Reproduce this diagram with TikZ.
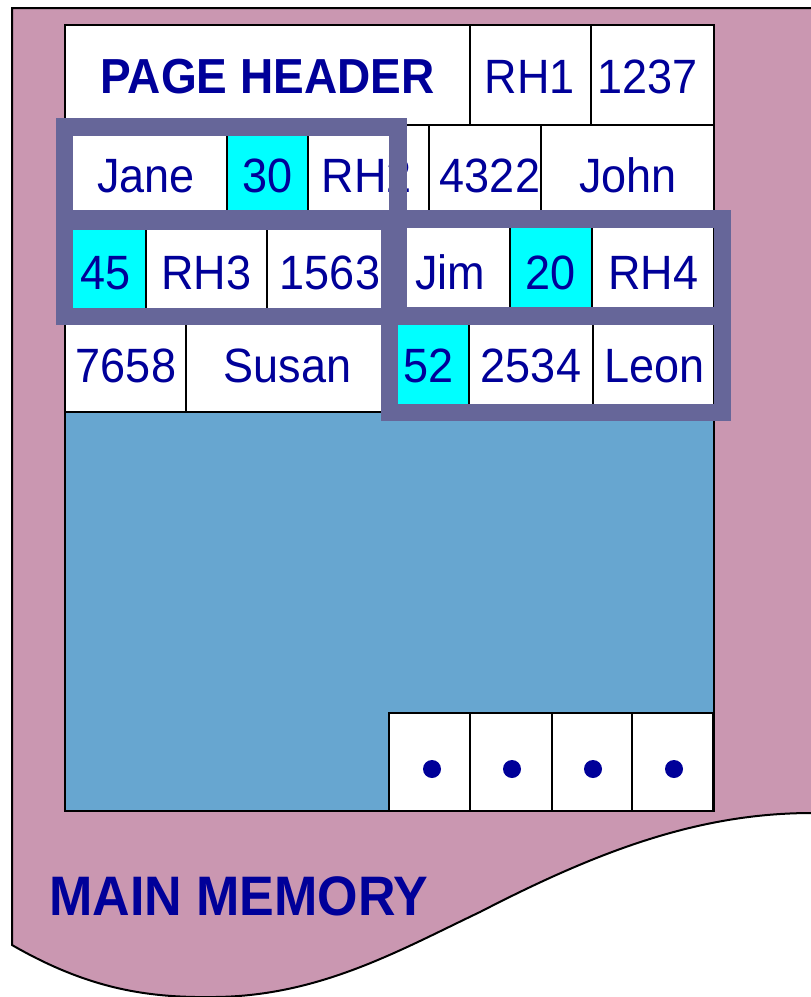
\documentclass[tikz,border=0pt]{standalone}
\usepackage{fontspec}
\usepackage{graphicx}
\setmainfont{Liberation Sans}
\definecolor{pinkbg}{RGB}{202,151,177}
\definecolor{pageblue}{RGB}{103,166,208}
\definecolor{framecol}{RGB}{102,102,153}
\definecolor{txtblue}{RGB}{0,0,153}
\definecolor{cyanfill}{RGB}{0,255,255}
\newcommand{\mkcell}[6]{\node[cellbox, fill=#6, minimum width={#4-#2}, minimum height={#5-#3}] (#1) at ({(#2+#4)/2},{(#3+#5)/2}) {};}
\newcommand{\tall}[1]{\scalebox{1}[1.07]{#1}}
\begin{document}
\begin{tikzpicture}[x=1pt,y=-1pt,
  cellbox/.style={draw=black, line width=1.6pt, inner sep=0pt, outer sep=0pt},
  celltext/.style={anchor=base, text=txtblue, font=\fontsize{45}{54}\selectfont, inner sep=0pt},
  framebox/.style={draw=framecol, line width=17.5pt},
  dotmark/.style={fill=txtblue}]
\useasboundingbox (0,0) rectangle (811,997);
% background memory shape
\fill[pinkbg] (812,8) -- (12,8) -- (12,945) .. controls (90,990) and (150,998) .. (215,997) .. controls (320,996) and (400,950) .. (480,912) .. controls (600,850) and (700,813) .. (812,813) -- cycle;
\draw[black, line width=2pt] (812,8) -- (12,8) -- (12,945) .. controls (90,990) and (150,998) .. (215,997) .. controls (320,996) and (400,950) .. (480,912) .. controls (600,850) and (700,813) .. (812,813);
% page
\node[draw=black, line width=2.6pt, fill=pageblue, inner sep=0pt, minimum width=649pt, minimum height=786pt] (page) at ({(65+714)/2},{(25+811)/2}) {};
% row 1
\mkcell{hdr}{65}{25}{470}{125}{white}
\mkcell{rhone}{470}{25}{591}{125}{white}
\mkcell{cone}{591}{25}{714}{125}{white}
% row 2
\mkcell{jane}{65}{125}{227}{219}{white}
\mkcell{thirty}{227}{125}{308}{219}{cyanfill}
\mkcell{rhtwo}{308}{125}{429}{219}{white}
\mkcell{ctwo}{429}{125}{541}{219}{white}
\mkcell{john}{541}{125}{714}{219}{white}
% row 3
\mkcell{fortyfive}{65}{219}{146}{316}{cyanfill}
\mkcell{rhthree}{146}{219}{267}{316}{white}
\mkcell{cthree}{267}{219}{390}{316}{white}
\mkcell{jim}{390}{219}{510}{316}{white}
\mkcell{twenty}{510}{219}{592}{316}{cyanfill}
\mkcell{rhfour}{592}{219}{714}{316}{white}
% row 4
\mkcell{cfour}{65}{316}{186}{412}{white}
\mkcell{susan}{186}{316}{390}{412}{white}
\mkcell{fiftytwo}{390}{316}{469}{412}{cyanfill}
\mkcell{cfive}{469}{316}{593}{412}{white}
\mkcell{leon}{593}{316}{714}{412}{white}
% slots
\mkcell{slotone}{389}{713}{470}{811}{white}
\mkcell{slottwo}{470}{713}{552}{811}{white}
\mkcell{slotthree}{552}{713}{632}{811}{white}
\mkcell{slotfour}{632}{713}{713}{811}{white}
\node[draw=black, line width=2.6pt, inner sep=0pt, minimum width=649pt, minimum height=786pt] (pageoutline) at (page.center) {};
% texts
\node[celltext, font=\fontsize{46}{54}\selectfont\bfseries] (tHdr) at (267.5,93) {\tall{PAGE HEADER}};
\node[celltext] (tRHone) at (530,93) {\tall{RH1}};
\node[celltext] (tCone) at (647.5,93) {\tall{1237}};
\node[celltext] (tJane) at (146,192) {\tall{Jane}};
\node[celltext] (tThirty) at (268,192) {\tall{30}};
\node[celltext] (tRHtwo) at (367,192) {\tall{RH2}};
\node[celltext] (tCtwo) at (490,192) {\tall{4322}};
\node[celltext] (tJohn) at (628,192) {\tall{John}};
\node[celltext] (tFortyfive) at (106,289) {\tall{45}};
\node[celltext] (tRHthree) at (206.5,289) {\tall{RH3}};
\node[celltext] (tCthree) at (330,289) {\tall{1563}};
\node[celltext] (tJim) at (450,289) {\tall{Jim}};
\node[celltext] (tTwenty) at (551,289) {\tall{20}};
\node[celltext] (tRHfour) at (653.5,289) {\tall{RH4}};
\node[celltext] (tCfour) at (126,382) {\tall{7658}};
\node[celltext] (tSusan) at (287.5,382) {\tall{Susan}};
\node[celltext] (tFiftytwo) at (429,382) {\tall{52}};
\node[celltext] (tCfive) at (531,382) {\tall{2534}};
\node[celltext] (tLeon) at (654.5,382) {\tall{Leon}};
% frames
\draw[framebox] (64.5,127) rectangle (398,219);
\draw[framebox] (64.5,221) rectangle (390,316.5);
\draw[framebox] (398.5,219) rectangle (722.5,316);
\draw[framebox] (389.5,316.5) rectangle (722.5,412.5);
% dots
\fill[dotmark] (432,769) circle (9pt);
\fill[dotmark] (512,769) circle (9pt);
\fill[dotmark] (593,769) circle (9pt);
\fill[dotmark] (674,769) circle (9pt);
% label
\node[anchor=base west, inner sep=0pt, text=txtblue, font=\fontsize{52}{60}\selectfont\bfseries] (mainmem) at (49,915) {\tall{MAIN MEMORY}};
\end{tikzpicture}
\end{document}
